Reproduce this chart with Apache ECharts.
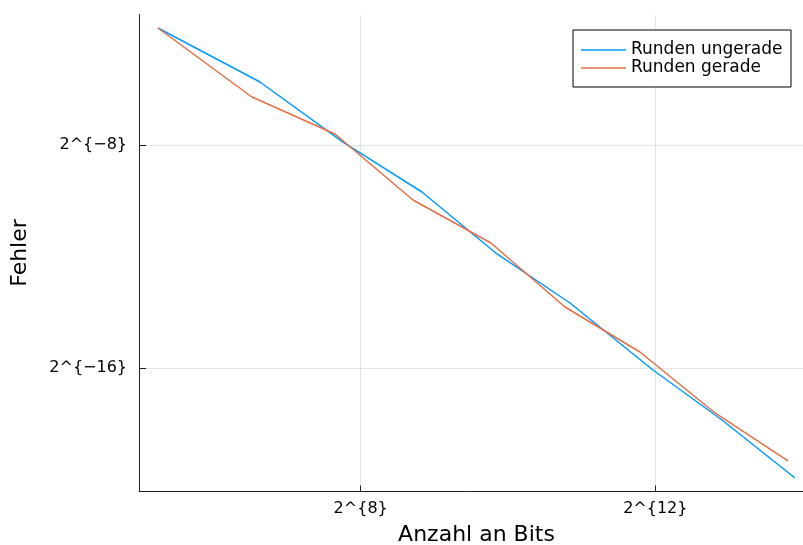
<!DOCTYPE html>
<html>
<head>
<meta charset="utf-8">
<script src="https://cdn.jsdelivr.net/npm/echarts@6/dist/echarts.min.js"></script>
<style>
html,body{margin:0;padding:0;background:#fff;}
#c{width:803px;height:545px;}
</style>
</head>
<body>
<div id="c"></div>
<script>
// values are log2 exponents
const seriesNames = ['Runden ungerade', 'Runden gerade'];
const log2BitsUngerade = [5.248, 6.633, 7.760, 8.832, 9.851, 10.842, 11.969, 12.906, 13.897];
const log2FehlerUngerade = [-3.808, -5.743, -7.893, -9.684, -11.905, -13.661, -16.062, -17.853, -19.931];
const log2BitsGerade = [5.248, 6.524, 7.651, 8.710, 9.769, 10.774, 11.792, 12.811, 13.802];
const log2FehlerGerade = [-3.808, -6.280, -7.606, -9.971, -11.511, -13.804, -15.417, -17.602, -19.322];
const xTickExps = [8, 12];
const yTickExps = [-16, -8];
const xTitle = 'Anzahl an Bits';
const yTitle = 'Fehler';

function pairs(xs, ys) { return xs.map((x, i) => [x, ys[i]]); }
function expLabel(v) {
  const n = Math.round(v);
  return '2^{' + (n < 0 ? '\u2212' + (-n) : String(n)) + '}';
}

const font = 'DejaVu Sans';
const chart = echarts.init(document.getElementById('c'), null, {renderer: 'canvas'});
chart.setOption({
  animation: false,
  backgroundColor: '#ffffff',
  textStyle: {fontFamily: font},
  grid: {left: 139, top: 14.5, width: 675, height: 477, containLabel: false, outerBoundsMode: 'none'},
  xAxis: {
    type: 'value', min: 4.99, max: 14.155,
    name: xTitle, nameLocation: 'middle', nameGap: 33,
    nameTextStyle: {fontFamily: font, fontSize: 22, color: '#000'},
    axisLine: {show: true, onZero: false, lineStyle: {color: '#222', width: 1}},
    axisTick: {show: true, inside: true, length: 6, customValues: xTickExps, lineStyle: {color: '#222', width: 1}},
    axisLabel: {customValues: xTickExps, formatter: expLabel, margin: 9, fontFamily: font, fontSize: 16, color: '#000'},
    splitLine: {show: true, lineStyle: {color: 'rgba(0,0,0,0.1)', width: 1}}
  },
  yAxis: {
    type: 'value', min: -20.415, max: -3.324,
    name: yTitle, nameLocation: 'middle', nameGap: 108, nameRotate: 90,
    nameTextStyle: {fontFamily: font, fontSize: 22, color: '#000'},
    axisLine: {show: true, onZero: false, lineStyle: {color: '#222', width: 1}},
    axisTick: {show: true, inside: true, length: 7, customValues: yTickExps, lineStyle: {color: '#222', width: 1}},
    axisLabel: {customValues: yTickExps, formatter: expLabel, margin: 12, fontFamily: font, fontSize: 16, color: '#000'},
    splitLine: {show: true, lineStyle: {color: 'rgba(0,0,0,0.1)', width: 1}}
  },
  legend: {
    orient: 'vertical', left: 573, top: 30,
    padding: [11, 8, 10, 8],
    borderColor: '#000', borderWidth: 1, backgroundColor: '#fff',
    icon: 'rect', itemWidth: 45, itemHeight: 1.5, itemGap: 0,
    textStyle: {fontFamily: font, fontSize: 17, color: '#000', lineHeight: 18, width: 152},
    data: seriesNames
  },
  series: [
    {name: seriesNames[0], type: 'line', data: pairs(log2BitsUngerade, log2FehlerUngerade),
     symbol: 'none', lineStyle: {color: '#009AFA', width: 1.5}, itemStyle: {color: '#009AFA'}},
    {name: seriesNames[1], type: 'line', data: pairs(log2BitsGerade, log2FehlerGerade),
     symbol: 'none', lineStyle: {color: '#E36F47', width: 1.5}, itemStyle: {color: '#E36F47'}}
  ]
});
</script>
</body>
</html>
